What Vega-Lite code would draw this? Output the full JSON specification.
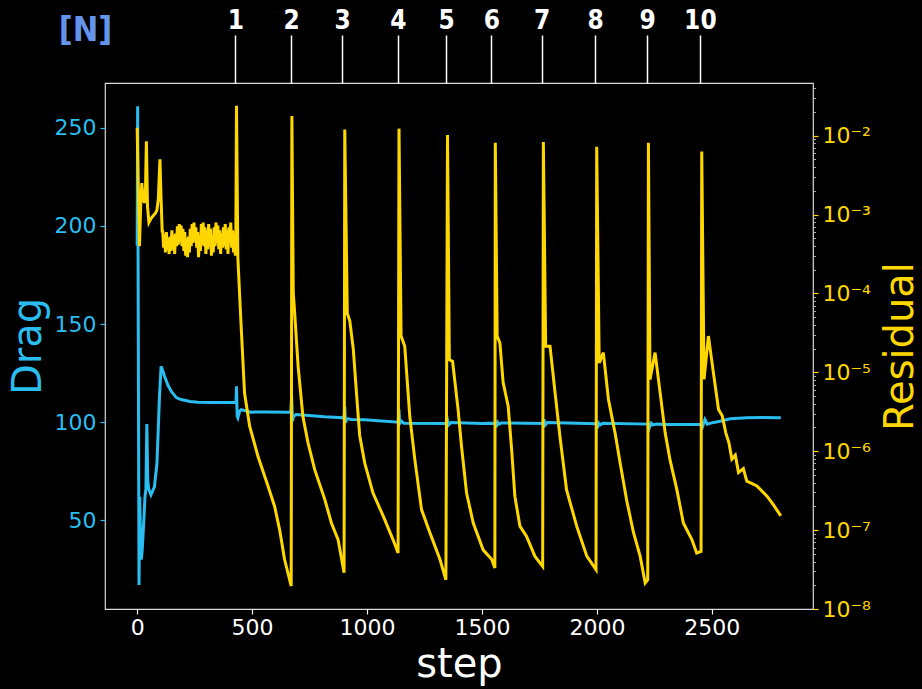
{
  "$schema": "https://vega.github.io/schema/vega-lite/v6.json",
  "background": "black",
  "autosize": {"type": "none"},
  "padding": {"left": 105, "top": 83, "right": 109, "bottom": 80},
  "width": 708,
  "height": 526,
  "config": {
    "view": {"stroke": "#d9d9d9", "strokeWidth": 1.2},
    "axis": {"grid": false, "domain": false, "labelFont": "DejaVu Sans", "titleFont": "DejaVu Sans", "titleFontWeight": "normal"}
  },
  "datasets": {
    "drag": [
      {"step": 0, "drag": 190}, {"step": 2, "drag": 261}, {"step": 5, "drag": 140}, {"step": 8, "drag": 17},
      {"step": 11, "drag": 62}, {"step": 14, "drag": 45}, {"step": 18, "drag": 30}, {"step": 22, "drag": 35},
      {"step": 28, "drag": 48}, {"step": 34, "drag": 62}, {"step": 38, "drag": 66}, {"step": 42, "drag": 99},
      {"step": 46, "drag": 70}, {"step": 50, "drag": 66}, {"step": 60, "drag": 63}, {"step": 75, "drag": 67},
      {"step": 86, "drag": 79}, {"step": 97, "drag": 113}, {"step": 104, "drag": 128.5}, {"step": 112, "drag": 126},
      {"step": 119, "drag": 123.4}, {"step": 135, "drag": 118.5}, {"step": 148, "drag": 115.8}, {"step": 170, "drag": 112.5},
      {"step": 191, "drag": 111.5}, {"step": 230, "drag": 110.5}, {"step": 264, "drag": 110.2}, {"step": 330, "drag": 110},
      {"step": 380, "drag": 110}, {"step": 430, "drag": 110}, {"step": 432, "drag": 118.3}, {"step": 435, "drag": 103},
      {"step": 438, "drag": 102.2}, {"step": 445, "drag": 105.5}, {"step": 453, "drag": 106.4}, {"step": 494, "drag": 105.1},
      {"step": 560, "drag": 105.2}, {"step": 668, "drag": 105.1}, {"step": 672, "drag": 113}, {"step": 676, "drag": 100.5},
      {"step": 680, "drag": 103}, {"step": 692, "drag": 103.9}, {"step": 816, "drag": 102.7}, {"step": 900, "drag": 102.2},
      {"step": 903, "drag": 108}, {"step": 906, "drag": 99.7}, {"step": 912, "drag": 101.8}, {"step": 932, "drag": 101.4},
      {"step": 990, "drag": 101.2}, {"step": 1135, "drag": 100}, {"step": 1139, "drag": 106.4}, {"step": 1142, "drag": 99.3},
      {"step": 1150, "drag": 100.5}, {"step": 1160, "drag": 99.5}, {"step": 1344, "drag": 99.3}, {"step": 1350, "drag": 101},
      {"step": 1354, "drag": 98.5}, {"step": 1365, "drag": 99.8}, {"step": 1500, "drag": 99.3}, {"step": 1558, "drag": 99.5},
      {"step": 1562, "drag": 97.5}, {"step": 1568, "drag": 100}, {"step": 1575, "drag": 99}, {"step": 1585, "drag": 99.6},
      {"step": 1767, "drag": 99.3}, {"step": 1770, "drag": 101.5}, {"step": 1775, "drag": 98.5}, {"step": 1785, "drag": 99.8},
      {"step": 1999, "drag": 99.2}, {"step": 2002, "drag": 97}, {"step": 2008, "drag": 99.5}, {"step": 2015, "drag": 98.6},
      {"step": 2025, "drag": 99.4}, {"step": 2224, "drag": 99}, {"step": 2228, "drag": 97.1}, {"step": 2236, "drag": 99.5},
      {"step": 2244, "drag": 98.6}, {"step": 2260, "drag": 99}, {"step": 2289, "drag": 98.8}, {"step": 2456, "drag": 98.8},
      {"step": 2460, "drag": 97.8}, {"step": 2470, "drag": 101.4}, {"step": 2480, "drag": 99}, {"step": 2495, "drag": 99.5},
      {"step": 2536, "drag": 100.5}, {"step": 2580, "drag": 101.7}, {"step": 2652, "drag": 102.2}, {"step": 2720, "drag": 102.4},
      {"step": 2800, "drag": 102.2}
    ],
    "residual": [
      {"step": 0, "r": 1.259e-2}, {"step": 4, "r": 2.818e-3}, {"step": 10, "r": 3.981e-4}, {"step": 15, "r": 1.259e-3},
      {"step": 20, "r": 2.512e-3}, {"step": 26, "r": 1.585e-3}, {"step": 32, "r": 1.413e-3}, {"step": 36, "r": 1.995e-3},
      {"step": 40, "r": 8.511e-3}, {"step": 45, "r": 1.259e-3}, {"step": 51, "r": 7.943e-4}, {"step": 60, "r": 8.913e-4},
      {"step": 68, "r": 9.550e-4}, {"step": 80, "r": 1.047e-3}, {"step": 86, "r": 1.148e-3}, {"step": 92, "r": 1.585e-3},
      {"step": 99, "r": 5.012e-3}, {"step": 104, "r": 1.585e-3}, {"step": 109, "r": 5.888e-4},
      {"step": 111, "r": 6.310e-4}, {"step": 115, "r": 3.802e-4}, {"step": 119, "r": 5.623e-4}, {"step": 123, "r": 3.311e-4},
      {"step": 127, "r": 6.026e-4}, {"step": 131, "r": 3.548e-4}, {"step": 135, "r": 5.012e-4}, {"step": 139, "r": 3.162e-4},
      {"step": 143, "r": 5.248e-4}, {"step": 147, "r": 3.467e-4}, {"step": 151, "r": 6.310e-4}, {"step": 155, "r": 3.631e-4},
      {"step": 159, "r": 5.495e-4}, {"step": 163, "r": 3.162e-4}, {"step": 167, "r": 5.754e-4}, {"step": 171, "r": 3.981e-4},
      {"step": 175, "r": 7.079e-4}, {"step": 179, "r": 4.169e-4}, {"step": 183, "r": 7.586e-4}, {"step": 187, "r": 4.467e-4},
      {"step": 191, "r": 7.244e-4}, {"step": 195, "r": 3.981e-4}, {"step": 199, "r": 6.607e-4}, {"step": 203, "r": 3.467e-4},
      {"step": 207, "r": 6.026e-4}, {"step": 211, "r": 3.020e-4}, {"step": 215, "r": 5.012e-4}, {"step": 219, "r": 2.884e-4},
      {"step": 223, "r": 5.248e-4}, {"step": 227, "r": 3.311e-4}, {"step": 231, "r": 6.607e-4}, {"step": 235, "r": 3.981e-4},
      {"step": 239, "r": 7.586e-4}, {"step": 243, "r": 4.365e-4}, {"step": 247, "r": 7.943e-4}, {"step": 251, "r": 4.571e-4},
      {"step": 255, "r": 6.918e-4}, {"step": 259, "r": 3.802e-4}, {"step": 263, "r": 6.026e-4}, {"step": 267, "r": 2.884e-4},
      {"step": 271, "r": 5.495e-4}, {"step": 275, "r": 3.467e-4}, {"step": 279, "r": 7.586e-4}, {"step": 283, "r": 4.169e-4},
      {"step": 287, "r": 7.943e-4}, {"step": 291, "r": 3.981e-4}, {"step": 295, "r": 6.918e-4}, {"step": 299, "r": 3.162e-4},
      {"step": 303, "r": 6.310e-4}, {"step": 307, "r": 3.631e-4}, {"step": 311, "r": 7.586e-4}, {"step": 315, "r": 3.981e-4},
      {"step": 319, "r": 6.607e-4}, {"step": 323, "r": 3.020e-4}, {"step": 327, "r": 5.495e-4}, {"step": 331, "r": 3.311e-4},
      {"step": 335, "r": 6.918e-4}, {"step": 339, "r": 3.981e-4}, {"step": 343, "r": 7.943e-4}, {"step": 347, "r": 4.365e-4},
      {"step": 351, "r": 7.244e-4}, {"step": 355, "r": 3.631e-4}, {"step": 359, "r": 6.310e-4}, {"step": 363, "r": 3.162e-4},
      {"step": 367, "r": 5.754e-4}, {"step": 371, "r": 3.802e-4}, {"step": 375, "r": 6.918e-4}, {"step": 379, "r": 3.981e-4},
      {"step": 383, "r": 7.586e-4}, {"step": 387, "r": 3.631e-4}, {"step": 391, "r": 6.310e-4}, {"step": 395, "r": 3.162e-4},
      {"step": 399, "r": 6.918e-4}, {"step": 403, "r": 4.365e-4}, {"step": 407, "r": 7.943e-4}, {"step": 411, "r": 3.802e-4},
      {"step": 415, "r": 6.310e-4}, {"step": 419, "r": 3.311e-4}, {"step": 423, "r": 5.754e-4}, {"step": 427, "r": 3.020e-4},
      {"step": 429, "r": 3.981e-4},
      {"step": 432, "r": 2.399e-2}, {"step": 438, "r": 2.818e-4}, {"step": 452, "r": 3.981e-5}, {"step": 467, "r": 5.495e-6},
      {"step": 489, "r": 2.089e-6}, {"step": 525, "r": 8.710e-7}, {"step": 569, "r": 3.631e-7}, {"step": 598, "r": 1.995e-7},
      {"step": 620, "r": 1.0e-7}, {"step": 641, "r": 4.266e-8}, {"step": 670, "r": 1.950e-8},
      {"step": 673, "r": 1.778e-2}, {"step": 679, "r": 1.0e-4}, {"step": 683, "r": 7.079e-5}, {"step": 700, "r": 1.202e-5},
      {"step": 721, "r": 2.754e-6}, {"step": 743, "r": 1.288e-6}, {"step": 772, "r": 5.888e-7}, {"step": 816, "r": 2.455e-7},
      {"step": 845, "r": 1.230e-7}, {"step": 874, "r": 7.586e-8}, {"step": 900, "r": 2.884e-8},
      {"step": 903, "r": 1.202e-2}, {"step": 914, "r": 5.623e-5}, {"step": 925, "r": 4.467e-5}, {"step": 940, "r": 1.995e-5},
      {"step": 955, "r": 5.012e-6}, {"step": 968, "r": 1.585e-6}, {"step": 990, "r": 7.079e-7}, {"step": 1026, "r": 2.951e-7},
      {"step": 1070, "r": 1.514e-7}, {"step": 1113, "r": 7.586e-8}, {"step": 1135, "r": 5.129e-8},
      {"step": 1139, "r": 1.230e-2}, {"step": 1148, "r": 2.884e-5}, {"step": 1164, "r": 2.138e-5}, {"step": 1186, "r": 2.754e-6},
      {"step": 1208, "r": 7.762e-7}, {"step": 1237, "r": 1.820e-7}, {"step": 1273, "r": 9.333e-8}, {"step": 1317, "r": 4.266e-8},
      {"step": 1343, "r": 2.344e-8},
      {"step": 1350, "r": 1.023e-2}, {"step": 1358, "r": 1.445e-5}, {"step": 1372, "r": 1.380e-5}, {"step": 1396, "r": 3.388e-6},
      {"step": 1411, "r": 1.148e-6}, {"step": 1433, "r": 2.951e-7}, {"step": 1462, "r": 1.230e-7}, {"step": 1505, "r": 5.623e-8},
      {"step": 1542, "r": 4.266e-8}, {"step": 1556, "r": 3.311e-8},
      {"step": 1558, "r": 8.128e-3}, {"step": 1566, "r": 2.884e-5}, {"step": 1578, "r": 2.344e-5}, {"step": 1592, "r": 7.413e-6},
      {"step": 1614, "r": 3.715e-6}, {"step": 1629, "r": 1.047e-6}, {"step": 1643, "r": 2.692e-7}, {"step": 1665, "r": 1.122e-7},
      {"step": 1694, "r": 8.318e-8}, {"step": 1730, "r": 4.677e-8}, {"step": 1764, "r": 3.467e-8},
      {"step": 1767, "r": 8.318e-3}, {"step": 1777, "r": 2.138e-5}, {"step": 1796, "r": 2.138e-5}, {"step": 1818, "r": 5.495e-6},
      {"step": 1839, "r": 1.549e-6}, {"step": 1868, "r": 3.236e-7}, {"step": 1912, "r": 1.122e-7}, {"step": 1956, "r": 4.677e-8},
      {"step": 1996, "r": 3.162e-8},
      {"step": 1999, "r": 7.244e-3}, {"step": 2010, "r": 1.318e-5}, {"step": 2028, "r": 1.778e-5}, {"step": 2050, "r": 4.571e-6},
      {"step": 2079, "r": 1.698e-6}, {"step": 2101, "r": 7.079e-7}, {"step": 2130, "r": 2.344e-7}, {"step": 2159, "r": 9.333e-8},
      {"step": 2188, "r": 4.677e-8}, {"step": 2210, "r": 2.138e-8}, {"step": 2221, "r": 2.344e-8},
      {"step": 2224, "r": 8.128e-3}, {"step": 2231, "r": 8.128e-6}, {"step": 2253, "r": 1.778e-5}, {"step": 2275, "r": 5.495e-6},
      {"step": 2297, "r": 1.698e-6}, {"step": 2318, "r": 7.762e-7}, {"step": 2348, "r": 3.236e-7}, {"step": 2376, "r": 1.230e-7},
      {"step": 2413, "r": 7.586e-8}, {"step": 2434, "r": 5.129e-8}, {"step": 2453, "r": 5.370e-8},
      {"step": 2456, "r": 6.310e-3}, {"step": 2466, "r": 8.128e-6}, {"step": 2485, "r": 2.884e-5}, {"step": 2507, "r": 9.772e-6},
      {"step": 2529, "r": 3.388e-6}, {"step": 2545, "r": 2.818e-6}, {"step": 2561, "r": 1.698e-6}, {"step": 2574, "r": 1.288e-6},
      {"step": 2587, "r": 7.943e-7}, {"step": 2602, "r": 8.913e-7}, {"step": 2616, "r": 5.370e-7}, {"step": 2637, "r": 6.026e-7},
      {"step": 2652, "r": 4.169e-7}, {"step": 2696, "r": 3.631e-7}, {"step": 2740, "r": 2.692e-7}, {"step": 2768, "r": 2.089e-7},
      {"step": 2800, "r": 1.514e-7}
    ]
  },
  "resolve": {"scale": {"y": "independent"}, "axis": {"x": "independent", "y": "independent"}},
  "layer": [
    {
      "data": {"name": "drag"},
      "mark": {"type": "line", "color": "#29BDF0", "strokeWidth": 3, "clip": true},
      "encoding": {
        "x": {
          "field": "step", "type": "quantitative",
          "scale": {"domain": [-140, 2940], "nice": false, "zero": false},
          "axis": {
            "orient": "bottom", "values": [0, 500, 1000, 1500, 2000, 2500], "format": "d", "title": "step",
            "labelColor": "white", "labelFontSize": 22, "tickColor": "white", "tickSize": 5, "tickWidth": 1.2, "labelPadding": 3,
            "titleColor": "white", "titleFontSize": 40, "titleBaseline": "alphabetic", "titleX": 354, "titleY": 67, "titleAlign": "center"
          }
        },
        "y": {
          "field": "drag", "type": "quantitative",
          "scale": {"domain": [4.8, 272.8], "nice": false, "zero": false},
          "axis": {
            "orient": "left", "values": [50, 100, 150, 200, 250], "title": "Drag",
            "labelColor": "#29BDF0", "labelFontSize": 22, "tickColor": "#29BDF0", "tickSize": 5, "tickWidth": 1.2, "labelPadding": 4,
            "titleColor": "#29BDF0", "titleFontSize": 40, "titleAngle": -90, "titleBaseline": "alphabetic", "titleAlign": "center", "titleX": -65, "titleY": 263
          }
        }
      }
    },
    {
      "data": {"name": "residual"},
      "mark": {"type": "line", "color": "#FFD700", "strokeWidth": 3, "clip": true},
      "encoding": {
        "x": {
          "field": "step", "type": "quantitative",
          "axis": {
            "orient": "top", "values": [427, 670, 892, 1134, 1344, 1541, 1759, 1992, 2218, 2448],
            "labelExpr": "indexof([427, 670, 892, 1134, 1344, 1541, 1759, 1992, 2218, 2448], datum.value) + 1",
            "tickSize": 48, "tickColor": "white", "tickWidth": 1.5,
            "labelFont": "DejaVu Sans Condensed, Roboto Condensed, Liberation Sans Narrow, sans-serif", "labelFontWeight": "bold", "labelFontSize": 26, "labelColor": "white",
            "labelBaseline": "alphabetic", "labelPadding": 7, "labelFlush": false, "labelOverlap": false,
            "title": "[N]", "titleFont": "DejaVu Sans Condensed, Roboto Condensed, Liberation Sans Narrow, sans-serif", "titleFontWeight": "bold", "titleFontSize": 34, "titleColor": "#6495ED",
            "titleX": -20, "titleY": -43, "titleBaseline": "alphabetic", "titleAlign": "center"
          }
        },
        "y": {
          "field": "r", "type": "quantitative",
          "scale": {"type": "log", "domain": [1e-8, 0.0466], "nice": false},
          "axis": {
            "orient": "right", "values": [1e-8, 1e-7, 1e-6, 1e-5, 1e-4, 1e-3, 1e-2],
            "labelExpr": "['10⁰','10⁻¹','10⁻²','10⁻³','10⁻⁴','10⁻⁵','10⁻⁶','10⁻⁷','10⁻⁸'][-round(log(datum.value)/LN10)]",
            "labelColor": "#FFD700", "labelFontSize": 22, "tickColor": "#FFD700", "tickSize": 5, "tickWidth": 1.2, "labelPadding": 4,
            "title": "Residual", "titleColor": "#FFD700", "titleFontSize": 40, "titleAngle": -90, "titleBaseline": "alphabetic",
            "titleAlign": "center", "titleX": 99, "titleY": 263
          }
        }
      }
    },
    {
      "data": {"name": "residual"},
      "mark": {"type": "line", "opacity": 0},
      "encoding": {
        "x": {"field": "step", "type": "quantitative", "axis": null},
        "y": {
          "field": "r", "type": "quantitative",
          "scale": {"type": "log", "domain": [1e-8, 0.0466], "nice": false},
          "axis": {
            "orient": "right", "labels": false, "title": null, "tickColor": "#aaaaaa", "tickSize": 2.5, "tickWidth": 1,
            "values": [2e-8, 3e-8, 4e-8, 5e-8, 6e-8, 7e-8, 8e-8, 9e-8, 2e-7, 3e-7, 4e-7, 5e-7, 6e-7, 7e-7, 8e-7, 9e-7,
                       2e-6, 3e-6, 4e-6, 5e-6, 6e-6, 7e-6, 8e-6, 9e-6, 2e-5, 3e-5, 4e-5, 5e-5, 6e-5, 7e-5, 8e-5, 9e-5,
                       2e-4, 3e-4, 4e-4, 5e-4, 6e-4, 7e-4, 8e-4, 9e-4, 2e-3, 3e-3, 4e-3, 5e-3, 6e-3, 7e-3, 8e-3, 9e-3,
                       2e-2, 3e-2, 4e-2]
          }
        }
      }
    }
  ]
}
